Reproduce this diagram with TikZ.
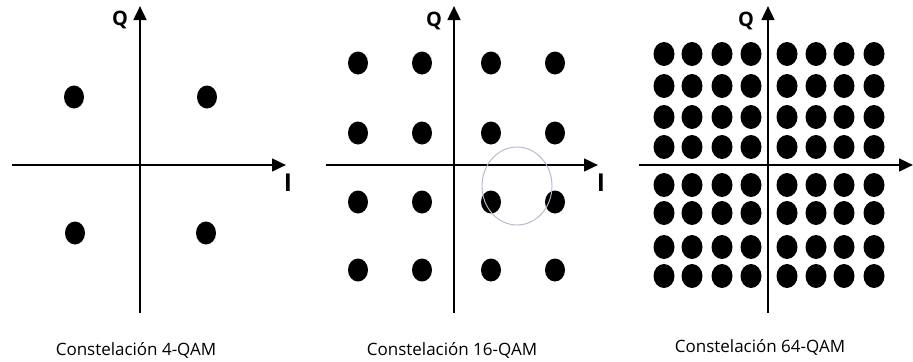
\documentclass[tikz,border=0pt]{standalone}
\usepackage{fontspec}
\setmainfont{Open Sans}
\usetikzlibrary{arrows.meta,shapes.geometric}

\begin{document}
\begin{tikzpicture}[
        x=0.03cm, y=-0.03cm,
        eje/.style={-{Triangle[length=0.42cm, width=0.38cm]}, line width=2.2pt},
        punto/.style={ellipse, fill=black, inner sep=0pt, minimum width=0.6cm, minimum height=0.69cm},
        puntog/.style={punto, minimum width=0.63cm, minimum height=0.72cm},
        nombre/.style={font=\fontsize{14.5}{17}\selectfont, inner sep=0pt},
        etiq/.style={font=\bfseries\fontsize{17}{20}\selectfont, inner sep=0pt},
        etiqi/.style={font=\bfseries\fontsize{21}{24}\selectfont, inner sep=0pt}
    ]
    \useasboundingbox (0,0) rectangle (913,362);

    % 4-QAM
    \coordinate (a-izq) at (12,165);
    \coordinate (a-der) at (286,165);
    \coordinate (a-abj) at (140,313);
    \coordinate (a-arr) at (140,6);
    \draw[eje] (a-izq) -- (a-der);
    \draw[eje] (a-abj) -- (a-arr);
    \node[etiq] (a-q) at (120,20) {Q};
    \node[etiqi] (a-i) at (288,183) {I};
    \foreach \x/\y [count=\n] in {74/97, 207/97, 75/233, 206/233}
        \node[punto] (a-p\n) at (\x,\y) {};
    \node[nombre] (a-nom) at (136,350) {Constelación 4-QAM};

    % 16-QAM
    \coordinate (b-izq) at (326,165);
    \coordinate (b-der) at (598,165);
    \coordinate (b-abj) at (454,313);
    \coordinate (b-arr) at (454,6);
    \draw[eje] (b-izq) -- (b-der);
    \draw[eje] (b-abj) -- (b-arr);
    \node[etiq] (b-q) at (434,21) {Q};
    \node[etiqi] (b-i) at (601,183) {I};
    \foreach \x [count=\c] in {358,422,491,555}
        \foreach \y [count=\f] in {63,133,202,270}
            \node[punto] (b-p\c\f) at (\x,\y) {};
    \node[draw={rgb,255:red,185;green,182;blue,205}, line width=0.8pt, ellipse,
        minimum width=2.1cm, minimum height=2.34cm] (b-circ) at (517,186) {};
    \node[nombre] (b-nom) at (452,350) {Constelación 16-QAM};

    % 64-QAM
    \coordinate (c-izq) at (639,165);
    \coordinate (c-der) at (913,165);
    \coordinate (c-abj) at (768,313);
    \coordinate (c-arr) at (768,6);
    \draw[eje] (c-izq) -- (c-der);
    \draw[eje] (c-abj) -- (c-arr);
    \node[etiq] (c-q) at (746,21) {Q};
    \node[etiqi] (c-i) at (918,183) {I};
    \foreach \x [count=\c] in {664,692,722,751,787,816,844,874}
        \foreach \y [count=\f] in {54,86,117,147,185,213,247,276}
            \node[puntog] (c-p\c\f) at (\x,\y) {};
    \node[nombre] (c-nom) at (760,347) {Constelación 64-QAM};
\end{tikzpicture}
\end{document}
